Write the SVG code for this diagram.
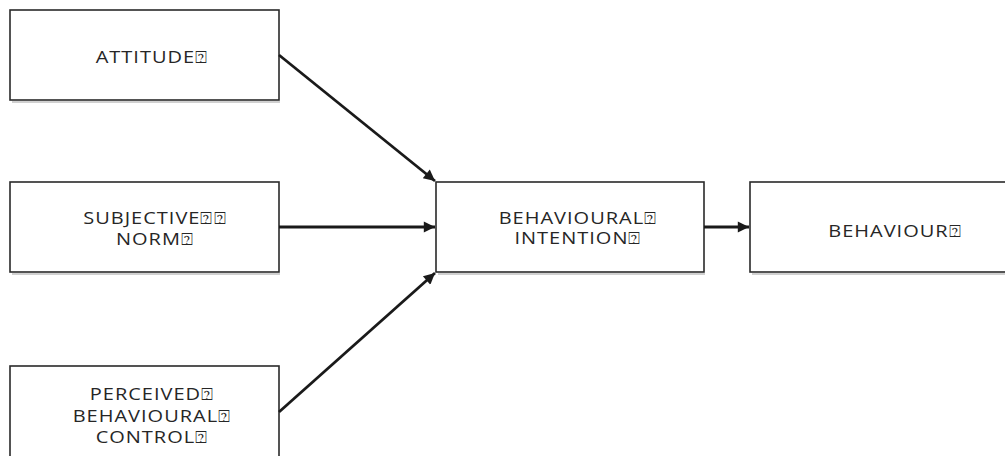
<svg xmlns="http://www.w3.org/2000/svg" width="1005" height="456" viewBox="0 0 1005 456">
  <defs>
    <marker id="arrow" viewBox="0 0 10 10" refX="10" refY="5" markerWidth="5" markerHeight="4" markerUnits="strokeWidth" orient="auto">
      <path d="M0,0 L10,5 L0,10 z" fill="#1a1a1a"/>
    </marker>
  </defs>
  <style>
    .box { fill: #ffffff; stroke: #2a2a2a; stroke-width: 1.6; }
    .shadow { fill: none; stroke: #d0d0d0; stroke-width: 2; }
    .label { font-family: "Open Sans", "DejaVu Sans", sans-serif; font-size: 16px; fill: #262626; text-anchor: middle; letter-spacing: 0.8px; }
    .edge { stroke: #1a1a1a; stroke-width: 2.8; fill: none; marker-end: url(#arrow); }
  </style>

  <rect width="1005" height="456" fill="#ffffff"/>

  <g id="attitude">
    <line class="shadow" x1="12" y1="102" x2="280" y2="102"/>
    <rect class="box" x="10" y="10" width="269" height="90"/>
    <text class="label" transform="translate(152,63) scale(1.25,1)">ATTITUDE⍰</text>
  </g>

  <g id="subjective-norm">
    <line class="shadow" x1="12" y1="274" x2="280" y2="274"/>
    <rect class="box" x="10" y="182" width="269" height="90"/>
    <text class="label" transform="translate(155,224) scale(1.25,1)">SUBJECTIVE⍰⍰</text>
    <text class="label" transform="translate(155,245) scale(1.25,1)">NORM⍰</text>
  </g>

  <g id="perceived-control">
    <rect class="box" x="10" y="366" width="269" height="100"/>
    <text class="label" transform="translate(152,400) scale(1.25,1)">PERCEIVED⍰</text>
    <text class="label" transform="translate(152,422) scale(1.25,1)">BEHAVIOURAL⍰</text>
    <text class="label" transform="translate(152,443) scale(1.25,1)">CONTROL⍰</text>
  </g>

  <g id="behavioural-intention">
    <line class="shadow" x1="438" y1="274" x2="705" y2="274"/>
    <rect class="box" x="436" y="182" width="268" height="90"/>
    <text class="label" transform="translate(578,224) scale(1.25,1)">BEHAVIOURAL⍰</text>
    <text class="label" transform="translate(578,244) scale(1.25,1)">INTENTION⍰</text>
  </g>

  <g id="behaviour">
    <line class="shadow" x1="752" y1="274" x2="1005" y2="274"/>
    <rect class="box" x="750" y="182" width="270" height="90"/>
    <text class="label" transform="translate(895,237) scale(1.25,1)">BEHAVIOUR⍰</text>
  </g>

  <g id="connectors">
    <line class="edge" x1="279" y1="55" x2="435" y2="181"/>
    <line class="edge" x1="279" y1="227" x2="435" y2="227"/>
    <line class="edge" x1="279" y1="412" x2="435" y2="273"/>
    <line class="edge" x1="704" y1="227" x2="749" y2="227"/>
  </g>
</svg>
